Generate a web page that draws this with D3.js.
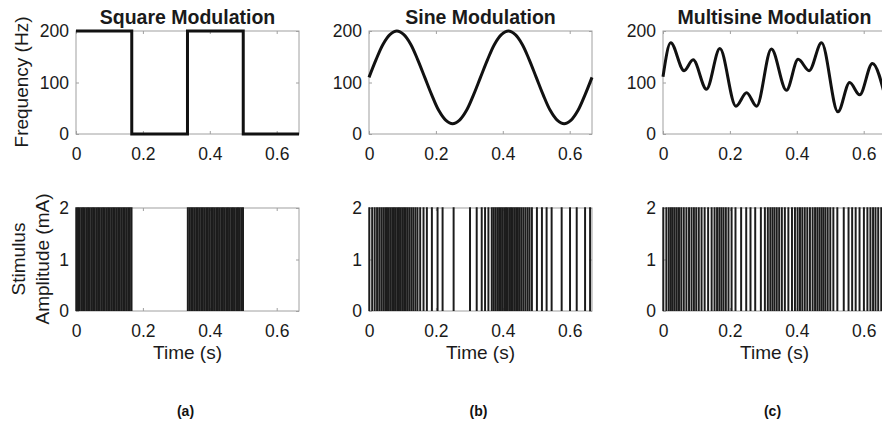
<!DOCTYPE html>
<html>
<head>
<meta charset="utf-8">
<style>
body {
  margin: 0;
  background: #fff;
  font-family: Arial, "Liberation Sans", Helvetica, sans-serif;
}
svg { display: block; }
.box { fill: none; stroke: #a0a0a0; stroke-width: 1px; }
.axis path.domain { display: none; }
.axis line { stroke: #a0a0a0; }
.axis text { font-size: 17.5px; fill: #1a1a1a; font-family: Arial, "Liberation Sans", sans-serif; }
.curve { fill: none; stroke: #111; stroke-width: 3px; }
.pulse { fill: none; stroke: #1c1c1c; stroke-width: 1.3px; }
.title { font-size: 19.5px; font-weight: bold; fill: #1a1a1a; }
.label { font-size: 19px; fill: #1a1a1a; }
.tag { font-size: 14px; font-weight: bold; fill: #111; }
</style>
<title>modulation</title>
<script src="https://cdn.jsdelivr.net/npm/d3@7/dist/d3.min.js"></script>
</head>
<body>
<script type="text/javascript">

// ---- data ----
var titles = ["Square Modulation", "Sine Modulation", "Multisine Modulation"];
var panelTags = ["(a)", "(b)", "(c)"];
var timeTicks = [0, 0.2, 0.4, 0.6];
var freqTicks = [0, 100, 200];
var ampTicks = [0, 1, 2];

var squareTimes = [0, 0.1667, 0.3333, 0.5, 0.6667];
var squareFreq  = [200, 0, 200, 0, 0];

var sineTimes = [0, 0.0208, 0.0417, 0.0625, 0.0833, 0.1042, 0.125, 0.1458, 0.1667, 0.1875, 0.2083, 0.2292, 0.25,
                 0.2708, 0.2917, 0.3125, 0.3333, 0.3542, 0.375, 0.3958, 0.4167, 0.4375, 0.4583, 0.4792, 0.5,
                 0.5208, 0.5417, 0.5625, 0.5833, 0.6042, 0.625, 0.6458, 0.6667];
var sineFreq  = [110, 144, 174, 193, 200, 193, 174, 144, 110, 76, 46, 27, 20,
                 27, 46, 76, 110, 144, 174, 193, 200, 193, 174, 144, 110,
                 76, 46, 27, 20, 27, 46, 76, 110];

var multiTimes = [0, 0.023, 0.063, 0.090, 0.130, 0.170, 0.218, 0.250, 0.280, 0.324, 0.369, 0.404,
                  0.437, 0.474, 0.523, 0.558, 0.588, 0.626, 0.667];
var multiFreq  = [111, 177, 123, 144, 87, 166, 54, 80, 54, 165, 85, 145,
                  123, 177, 43, 100, 76, 137, 64];

// pulse onset times (s)
var squarePulses = [0, 0.005, 0.01, 0.015, 0.02, 0.025, 0.03, 0.035, 0.04, 0.045, 0.05, 0.055, 0.06, 0.065,
  0.07, 0.075, 0.08, 0.085, 0.09, 0.095, 0.1, 0.105, 0.11, 0.115, 0.12, 0.125, 0.13, 0.135, 0.14, 0.145,
  0.15, 0.155, 0.16, 0.165,
  0.3333, 0.3383, 0.3433, 0.3483, 0.3533, 0.3583, 0.3633, 0.3683, 0.3733, 0.3783, 0.3833, 0.3883, 0.3933,
  0.3983, 0.4033, 0.4083, 0.4133, 0.4183, 0.4233, 0.4283, 0.4333, 0.4383, 0.4433, 0.4483, 0.4533, 0.4583,
  0.4633, 0.4683, 0.4733, 0.4783, 0.4833, 0.4883, 0.4933, 0.4983];

var sinePulses = [0, 0.0085, 0.016, 0.0231, 0.0297, 0.0358, 0.0417, 0.0474, 0.0528, 0.0582, 0.0634, 0.0685,
  0.0736, 0.0786, 0.0836, 0.0886, 0.0937, 0.0987, 0.1039, 0.1091, 0.1145, 0.1199, 0.1257, 0.1315, 0.1378,
  0.144, 0.152, 0.162, 0.172, 0.187, 0.204, 0.219, 0.252, 0.301, 0.321, 0.336, 0.346, 0.356, 0.366, 0.3715,
  0.3769, 0.3825, 0.3879, 0.3933, 0.3984, 0.4035, 0.4086, 0.4136, 0.4186, 0.4236, 0.4287, 0.4337, 0.4389,
  0.4442, 0.4496, 0.4551, 0.4609, 0.4669, 0.4731, 0.479, 0.486, 0.501, 0.516, 0.53, 0.545, 0.575, 0.6,
  0.62, 0.645, 0.66];

var multiPulses = [0, 0.009, 0.0163, 0.0226, 0.0282, 0.0341, 0.0403, 0.0468, 0.0537, 0.0611, 0.069, 0.0768,
  0.0843, 0.0914, 0.0984, 0.106, 0.1143, 0.1235, 0.1339, 0.1444, 0.1531, 0.1606, 0.1674, 0.1736, 0.1799,
  0.1869, 0.1948, 0.2041, 0.2157, 0.2326, 0.2478, 0.2606, 0.2747, 0.2916, 0.3036, 0.3124, 0.3198, 0.3263,
  0.3324, 0.3391, 0.3463, 0.3543, 0.3633, 0.3738, 0.3846, 0.3935, 0.4014, 0.4085, 0.4155, 0.4228, 0.4304,
  0.4383, 0.4463, 0.4536, 0.4604, 0.4668, 0.4728, 0.4785, 0.4846, 0.4914, 0.4991, 0.5083, 0.5202, 0.5394,
  0.5537, 0.5645, 0.575, 0.5866, 0.5996, 0.6101, 0.6191, 0.627, 0.6343, 0.6424, 0.6515, 0.662];

var pulseAmp = 2;       // mA
var pulseWidth = 0.002; // s

// ---- layout ----
var width = 882, height = 424;
var panelLeft = [76, 369, 663];
var panelW = 223;
var topY = [31, 134], botY = [208, 311];

var svg = d3.select("body").append("svg")
  .attr("width", width)
  .attr("height", height);

var panels = [
  { t: squareTimes, f: squareFreq, curve: d3.curveStepAfter, pulses: squarePulses },
  { t: sineTimes, f: sineFreq, curve: d3.curveCatmullRom, pulses: sinePulses },
  { t: multiTimes, f: multiFreq, curve: d3.curveMonotoneX, pulses: multiPulses }
];

var fmt = function(d) { return String(d); };

panels.forEach(function(p, i) {
  var x = d3.scaleLinear().domain([0, 0.6667]).range([panelLeft[i], panelLeft[i] + panelW]);
  var yF = d3.scaleLinear().domain([0, 200]).range([topY[1], topY[0]]);
  var yA = d3.scaleLinear().domain([0, 2]).range([botY[1], botY[0]]);

  drawAxes(x, yF, freqTicks, topY);
  drawAxes(x, yA, ampTicks, botY);

  /* ------- FREQUENCY CURVE -------*/
  var pts = p.t.map(function(t, k) { return [t, p.f[k]]; });
  var line = d3.line()
    .x(function(d) { return x(d[0]); })
    .y(function(d) { return yF(d[1]); })
    .curve(p.curve);
  svg.append("path")
    .attr("class", "curve")
    .attr("d", line(pts));

  /* ------- PULSE TRAIN -------*/
  svg.append("g").selectAll("path")
    .data(p.pulses)
    .enter().append("path")
    .attr("class", "pulse")
    .attr("d", function(t) {
      return "M" + x(t) + "," + yA(0) + "V" + yA(pulseAmp) + "H" + x(t + pulseWidth) + "V" + yA(0);
    });

  // title, x label, tag
  var cx = panelLeft[i] + panelW / 2;
  svg.append("text").attr("class", "title")
    .attr("x", cx).attr("y", 24)
    .attr("text-anchor", "middle")
    .text(titles[i]);
  svg.append("text").attr("class", "label")
    .attr("x", cx).attr("y", 359)
    .attr("text-anchor", "middle")
    .text("Time (s)");
  svg.append("text").attr("class", "tag")
    .attr("x", cx - 2).attr("y", 416)
    .attr("text-anchor", "middle")
    .text(panelTags[i]);
});

function drawAxes(x, y, yTicks, yr) {
  var x0 = x.range()[0], x1 = x.range()[1];
  svg.append("rect").attr("class", "box")
    .attr("x", x0).attr("y", yr[0])
    .attr("width", x1 - x0).attr("height", yr[1] - yr[0]);

  svg.append("g").attr("class", "axis")
    .attr("transform", "translate(0," + yr[1] + ")")
    .call(d3.axisBottom(x).tickValues(timeTicks).tickSize(-3).tickPadding(14).tickFormat(fmt));
  svg.append("g").attr("class", "axis")
    .attr("transform", "translate(0," + yr[0] + ")")
    .call(d3.axisTop(x).tickValues(timeTicks).tickSize(-3).tickFormat(""));
  svg.append("g").attr("class", "axis")
    .attr("transform", "translate(" + x0 + ",0)")
    .call(d3.axisLeft(y).tickValues(yTicks).tickSize(-3).tickPadding(7).tickFormat(fmt));
  svg.append("g").attr("class", "axis")
    .attr("transform", "translate(" + x1 + ",0)")
    .call(d3.axisRight(y).tickValues(yTicks).tickSize(-3).tickFormat(""));
}

// y axis labels
svg.append("text").attr("class", "label")
  .attr("transform", "translate(28,82) rotate(-90)")
  .attr("text-anchor", "middle")
  .text("Frequency (Hz)");
svg.append("text").attr("class", "label")
  .attr("transform", "translate(25,259) rotate(-90)")
  .attr("text-anchor", "middle")
  .text("Stimulus");
svg.append("text").attr("class", "label")
  .attr("transform", "translate(49,259) rotate(-90)")
  .attr("text-anchor", "middle")
  .text("Amplitude (mA)");

</script>
</body>
</html>
